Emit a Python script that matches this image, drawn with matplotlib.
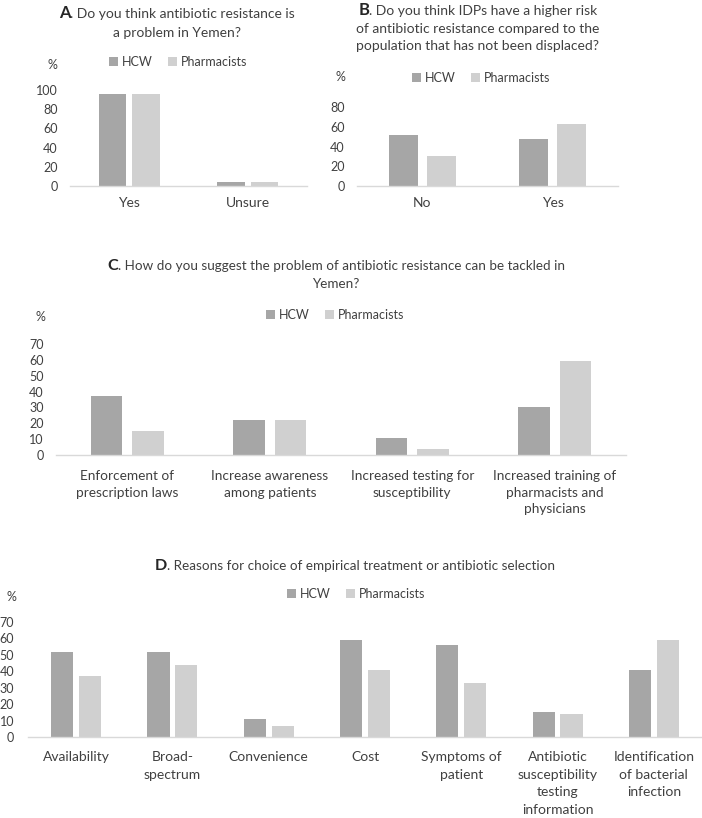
import matplotlib
matplotlib.use("Agg")
import matplotlib.pyplot as plt
from matplotlib.patches import Patch
import numpy as np

plt.rcParams['font.family'] = ['Lato', 'DejaVu Sans']

series = ["HCW", "Pharmacists"]
colors = ["#a6a6a6", "#d0d0d0"]
TXT = "#404040"

a_letter = "A"
a_title = [". Do you think antibiotic resistance is", "a problem in Yemen?"]
a_cats = ["Yes", "Unsure"]
a_hcw = [95.5, 4]
a_pha = [95.5, 4]
a_ticks = [0, 20, 40, 60, 80, 100]

b_letter = "B"
b_title = [". Do you think IDPs have a higher risk",
           "of antibiotic resistance compared to the",
           "population that has not been displaced?"]
b_cats = ["No", "Yes"]
b_hcw = [52, 48]
b_pha = [30, 63]
b_ticks = [0, 20, 40, 60, 80]

c_letter = "C"
c_title = [". How do you suggest the problem of antibiotic resistance can be tackled in",
           "Yemen?"]
c_cats = ["Enforcement of\nprescription laws", "Increase awareness\namong patients",
          "Increased testing for\nsusceptibility",
          "Increased training of\npharmacists and\nphysicians"]
c_hcw = [37, 22, 11, 30]
c_pha = [15, 22, 4, 59]
c_ticks = [0, 10, 20, 30, 40, 50, 60, 70]

d_letter = "D"
d_title = [". Reasons for choice of empirical treatment or antibiotic selection"]
d_cats = ["Availability", "Broad-\nspectrum", "Convenience", "Cost", "Symptoms of\npatient",
          "Antibiotic\nsusceptibility\ntesting\ninformation",
          "Identification\nof bacterial\ninfection"]
d_hcw = [52, 52, 11, 59, 56, 15, 41]
d_pha = [37, 44, 7, 41, 33, 14, 59]
d_ticks = [0, 10, 20, 30, 40, 50, 60, 70]

W, H = 702, 818
fig = plt.figure(figsize=(W / 100, H / 100), dpi=100)
fig.patch.set_facecolor("white")
renderer = fig.canvas.get_renderer()


def px(x, y):
    return x / W, 1 - y / H


def draw_title(letter, lines, cx, ys, fs):
    # ys: vertical centres of each line (pixels from top)
    off = 0.36 * fs * 100 / 72
    for i, (line, y) in enumerate(zip(lines, ys)):
        by = 1 - (y + off) / H
        if i == 0:
            t1 = fig.text(0, by, letter, fontsize=fs * 1.2, fontweight="bold",
                          color="#262626", ha="left", va="baseline")
            t2 = fig.text(0, by, line, fontsize=fs, color=TXT, ha="left", va="baseline")
            w1 = t1.get_window_extent(renderer).width
            w2 = t2.get_window_extent(renderer).width
            x0 = cx - (w1 + w2) / 2
            t1.set_x(x0 / W)
            t2.set_x((x0 + w1) / W)
        else:
            fig.text(cx / W, by, line, fontsize=fs, color=TXT, ha="center", va="baseline")


def panel(left, right, top, bottom, ymax, cats, hcw, pha, ticks, width, off,
          ypad, xpad, legend_xy, pct_xy, lsp, catfs, tickfs=9, legfs=9):
    ax = fig.add_axes([left / W, 1 - bottom / H, (right - left) / W, (bottom - top) / H])
    x = np.arange(len(cats))
    ax.bar(x - off, hcw, width, color=colors[0], label=series[0])
    ax.bar(x + off, pha, width, color=colors[1], label=series[1])
    ax.set_xlim(-0.5, len(cats) - 0.5)
    ax.set_ylim(0, ymax)
    ax.set_yticks(ticks)
    ax.set_yticklabels([str(t) for t in ticks], fontsize=tickfs, color=TXT)
    ax.set_xticks(x)
    ax.set_xticklabels(cats, fontsize=catfs, color=TXT, linespacing=lsp, va="top")
    ax.tick_params(axis="both", length=0)
    ax.tick_params(axis="y", pad=ypad)
    ax.tick_params(axis="x", pad=xpad)
    for s in ["top", "right", "left"]:
        ax.spines[s].set_visible(False)
    ax.spines["bottom"].set_color("#d9d9d9")
    ax.spines["bottom"].set_linewidth(1.0)
    ax.set_facecolor("none")
    lx, ly = px(*legend_xy)
    handles = [Patch(facecolor=colors[0]), Patch(facecolor=colors[1])]
    fig.legend(handles, series, loc="center", bbox_to_anchor=(lx, ly), ncol=2,
               frameon=False, fontsize=legfs, handlelength=0.7, handleheight=0.7,
               handletextpad=0.35, columnspacing=1.2, labelcolor=TXT, borderpad=0)
    cx, cy = px(*pct_xy)
    fig.text(cx, cy, "%", ha="center", va="center", fontsize=tickfs, color=TXT)
    return ax


panel(70, 307, 90, 186, 100, a_cats, a_hcw, a_pha, a_ticks, 0.23, 0.142,
      9, 8, (178, 62), (52, 65), 1.4, 10)
draw_title(a_letter, a_title, 177, [13, 32], 10)

panel(357, 618, 107, 186, 80, b_cats, b_hcw, b_pha, b_ticks, 0.22, 0.146,
      9, 8, (481, 78), (340, 77), 1.4, 10)
draw_title(b_letter, b_title, 478, [10, 28, 45], 10)

panel(56, 626, 344, 455, 70, c_cats, c_hcw, c_pha, c_ticks, 0.22, 0.145,
      9, 11, (335, 315), (40, 317), 1.43, 9.8)
draw_title(c_letter, c_title, 336, [265, 283], 9.7)

panel(28, 702, 622, 737, 70, d_cats, d_hcw, d_pha, d_ticks, 0.23, 0.145,
      10, 10, (356, 594), (11, 597), 1.57, 10)
draw_title(d_letter, d_title, 355, [565], 9.7)

fig.savefig("out.png", dpi=100, facecolor="white")
